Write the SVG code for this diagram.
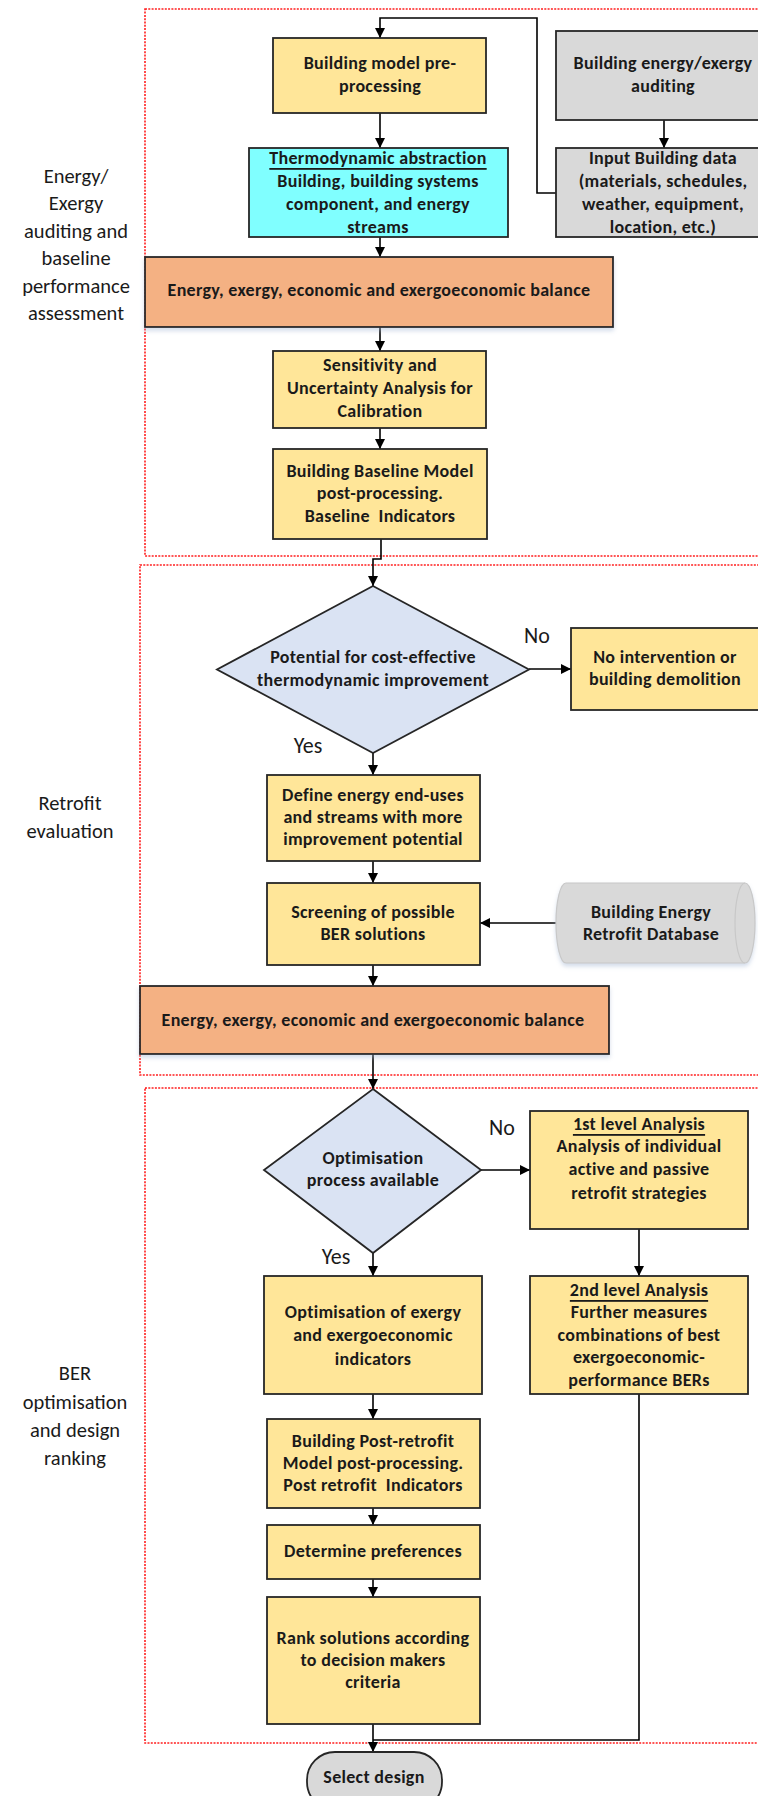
<svg xmlns="http://www.w3.org/2000/svg" width="758" height="1796" viewBox="0 0 758 1796">
  <style>
    .box { stroke:#262626; stroke-width:1.8; }
    .yel { fill:#ffe699; }
    .gry { fill:#d9d9d9; }
    .cyn { fill:#80ffff; }
    .org { fill:#f4b183; }
    .dia { fill:#dae3f3; }
    text { font-family: Carlito, Lato, "Liberation Sans", sans-serif; fill:#1a1a1a; text-anchor:middle; dominant-baseline:central; }
    .t { font-weight:700; font-size:18px; letter-spacing:0.3px; }
    .lbl { font-weight:400; font-size:20.5px; }
    .yn { font-weight:400; font-size:22px; }
    .u { text-decoration:underline; }
    .sec { fill:none; stroke:#ff1f1f; stroke-width:1.6; stroke-dasharray:2 1.3; }
    .con { fill:none; stroke:#000; stroke-width:1.6; }
  </style>
  <defs>
    <marker id="ah" viewBox="0 0 10 10" refX="10" refY="5" markerWidth="10" markerHeight="10" markerUnits="userSpaceOnUse" orient="auto">
      <path d="M0,0 L10,5 L0,10 z" fill="#000"/>
    </marker>
    <filter id="sh" x="-10%" y="-20%" width="120%" height="150%">
      <feDropShadow dx="0" dy="3" stdDeviation="2" flood-color="#9fb3d0" flood-opacity="0.45"/>
    </filter>
  </defs>
  <rect width="758" height="1796" fill="#fff"/>

  <!-- phase frames -->
  <g id="phases">
    <rect class="sec" x="145" y="9" width="640" height="547"/>
    <rect class="sec" x="140" y="565" width="645" height="510"/>
    <rect class="sec" x="145" y="1088" width="640" height="655"/>
  </g>

  <!-- phase titles -->
  <g id="phase-labels">
    <text class="lbl" x="76"><tspan x="76" y="176">Energy/</tspan><tspan x="76" y="203">Exergy</tspan><tspan x="76" y="231">auditing and</tspan><tspan x="76" y="258">baseline</tspan><tspan x="76" y="286">performance</tspan><tspan x="76" y="313">assessment</tspan></text>
    <text class="lbl" x="70"><tspan x="70" y="803">Retrofit</tspan><tspan x="70" y="831">evaluation</tspan></text>
    <text class="lbl" x="75"><tspan x="75" y="1373">BER</tspan><tspan x="75" y="1402">optimisation</tspan><tspan x="75" y="1430">and design</tspan><tspan x="75" y="1458">ranking</tspan></text>
  </g>

  <!-- connectors -->
  <g id="connectors">
    <path class="con" d="M556,193 H537 V18 H380 V38" marker-end="url(#ah)"/>
    <path class="con" d="M380,113 V148" marker-end="url(#ah)"/>
    <path class="con" d="M664,120 V148" marker-end="url(#ah)"/>
    <path class="con" d="M380,237 V257" marker-end="url(#ah)"/>
    <path class="con" d="M380,327 V351" marker-end="url(#ah)"/>
    <path class="con" d="M380,428 V449" marker-end="url(#ah)"/>
    <path class="con" d="M381,539 V559 H373 V586" marker-end="url(#ah)"/>
    <path class="con" d="M529,669 H571" marker-end="url(#ah)"/>
    <path class="con" d="M373,753 V775" marker-end="url(#ah)"/>
    <path class="con" d="M373,861 V883" marker-end="url(#ah)"/>
    <path class="con" d="M556,923 H480" marker-end="url(#ah)"/>
    <path class="con" d="M373,965 V986" marker-end="url(#ah)"/>
    <path class="con" d="M373,1054 V1089" marker-end="url(#ah)"/>
    <path class="con" d="M481,1170 H530" marker-end="url(#ah)"/>
    <path class="con" d="M373,1253 V1276" marker-end="url(#ah)"/>
    <path class="con" d="M639,1229 V1276" marker-end="url(#ah)"/>
    <path class="con" d="M373,1394 V1419" marker-end="url(#ah)"/>
    <path class="con" d="M373,1508 V1525" marker-end="url(#ah)"/>
    <path class="con" d="M373,1579 V1597" marker-end="url(#ah)"/>
    <path class="con" d="M373,1724 V1752" marker-end="url(#ah)"/>
    <path class="con" d="M639,1394 V1740 H373"/>
    <text class="yn" x="537" y="635">No</text>
    <text class="yn" x="308" y="745">Yes</text>
    <text class="yn" x="502" y="1127">No</text>
    <text class="yn" x="336" y="1256">Yes</text>
  </g>

  <g id="preprocessing">
    <rect class="box yel" x="273" y="38" width="213" height="75"/>
    <text class="t"><tspan x="380" y="63">Building model pre-</tspan><tspan x="380" y="86">processing</tspan></text>
  </g>

  <g id="auditing">
    <rect class="box gry" x="556" y="31" width="214" height="89"/>
    <text class="t"><tspan x="663" y="63">Building energy/exergy</tspan><tspan x="663" y="86">auditing</tspan></text>
  </g>

  <g id="abstraction">
    <rect class="box cyn" x="249" y="148" width="259" height="89"/>
    <text class="t"><tspan class="u" x="378" y="158">Thermodynamic abstraction</tspan><tspan x="378" y="181">Building, building systems</tspan><tspan x="378" y="204">component, and energy</tspan><tspan x="378" y="227">streams</tspan></text>
  </g>

  <g id="input-data">
    <rect class="box gry" x="556" y="148" width="214" height="89"/>
    <text class="t"><tspan x="663" y="158">Input Building data</tspan><tspan x="663" y="181">(materials, schedules,</tspan><tspan x="663" y="204">weather, equipment,</tspan><tspan x="663" y="227">location, etc.)</tspan></text>
  </g>

  <g id="balance-baseline">
    <rect class="box org" x="145" y="257" width="468" height="70" filter="url(#sh)"/>
    <text class="t" x="379" y="290">Energy, exergy, economic and exergoeconomic balance</text>
  </g>

  <g id="sensitivity">
    <rect class="box yel" x="273" y="351" width="213" height="77"/>
    <text class="t"><tspan x="380" y="365">Sensitivity and</tspan><tspan x="380" y="388">Uncertainty Analysis for</tspan><tspan x="380" y="411">Calibration</tspan></text>
  </g>

  <g id="baseline-model">
    <rect class="box yel" x="273" y="449" width="214" height="90"/>
    <text class="t" xml:space="preserve"><tspan x="380" y="471">Building Baseline Model</tspan><tspan x="380" y="493">post-processing.</tspan><tspan x="380" y="516">Baseline  Indicators</tspan></text>
  </g>

  <g id="potential-decision">
    <polygon class="box dia" points="373,586 529,669.5 373,753 217,669.5"/>
    <text class="t"><tspan x="373" y="657">Potential for cost-effective</tspan><tspan x="373" y="680">thermodynamic improvement</tspan></text>
  </g>

  <g id="no-intervention">
    <rect class="box yel" x="571" y="628" width="190" height="82"/>
    <text class="t"><tspan x="665" y="657">No intervention or</tspan><tspan x="665" y="679">building demolition</tspan></text>
  </g>

  <g id="end-uses">
    <rect class="box yel" x="267" y="775" width="213" height="86"/>
    <text class="t"><tspan x="373" y="795">Define energy end-uses</tspan><tspan x="373" y="817">and streams with more</tspan><tspan x="373" y="839">improvement potential</tspan></text>
  </g>

  <g id="screening">
    <rect class="box yel" x="267" y="883" width="213" height="82"/>
    <text class="t"><tspan x="373" y="912">Screening of possible</tspan><tspan x="373" y="934">BER solutions</tspan></text>
  </g>

  <g id="retrofit-database">
    <path d="M566,883 H745 A10,40 0 0 1 745,963 H566 A10,40 0 0 1 566,883 Z" fill="#d9d9d9" stroke="#c8c8c8" stroke-width="1.2" filter="url(#sh)"/>
    <path d="M745,883 A10,40 0 0 0 745,963" fill="none" stroke="#c8c8c8" stroke-width="1.2"/>
    <text class="t"><tspan x="651" y="912">Building Energy</tspan><tspan x="651" y="934">Retrofit Database</tspan></text>
  </g>

  <g id="balance-retrofit">
    <rect class="box org" x="140" y="986" width="469" height="68" filter="url(#sh)"/>
    <text class="t" x="373" y="1020">Energy, exergy, economic and exergoeconomic balance</text>
  </g>

  <g id="optimisation-decision">
    <polygon class="box dia" points="373,1089 481,1170 373,1253 264,1170"/>
    <text class="t"><tspan x="373" y="1158">Optimisation</tspan><tspan x="373" y="1180">process available</tspan></text>
  </g>

  <g id="first-level">
    <rect class="box yel" x="530" y="1111" width="218" height="118"/>
    <text class="t"><tspan class="u" x="639" y="1124">1st level Analysis</tspan><tspan x="639" y="1146">Analysis of individual</tspan><tspan x="639" y="1169">active and passive</tspan><tspan x="639" y="1193">retrofit strategies</tspan></text>
  </g>

  <g id="second-level">
    <rect class="box yel" x="530" y="1276" width="218" height="118"/>
    <text class="t"><tspan class="u" x="639" y="1290">2nd level Analysis</tspan><tspan x="639" y="1312">Further measures</tspan><tspan x="639" y="1335">combinations of best</tspan><tspan x="639" y="1357">exergoeconomic-</tspan><tspan x="639" y="1380">performance BERs</tspan></text>
  </g>

  <g id="optimisation">
    <rect class="box yel" x="264" y="1276" width="218" height="118"/>
    <text class="t"><tspan x="373" y="1312">Optimisation of exergy</tspan><tspan x="373" y="1335">and exergoeconomic</tspan><tspan x="373" y="1359">indicators</tspan></text>
  </g>

  <g id="post-retrofit">
    <rect class="box yel" x="267" y="1419" width="213" height="89"/>
    <text class="t" xml:space="preserve"><tspan x="373" y="1441">Building Post-retrofit</tspan><tspan x="373" y="1463">Model post-processing.</tspan><tspan x="373" y="1485">Post retrofit  Indicators</tspan></text>
  </g>

  <g id="preferences">
    <rect class="box yel" x="267" y="1525" width="213" height="54"/>
    <text class="t" x="373" y="1551">Determine preferences</text>
  </g>

  <g id="ranking">
    <rect class="box yel" x="267" y="1597" width="213" height="127"/>
    <text class="t"><tspan x="373" y="1638">Rank solutions according</tspan><tspan x="373" y="1660">to decision makers</tspan><tspan x="373" y="1682">criteria</tspan></text>
  </g>

  <g id="select-design">
    <rect class="box gry" x="307" y="1752" width="135" height="58" rx="28" ry="28"/>
    <text class="t" x="374" y="1777">Select design</text>
  </g>
</svg>
